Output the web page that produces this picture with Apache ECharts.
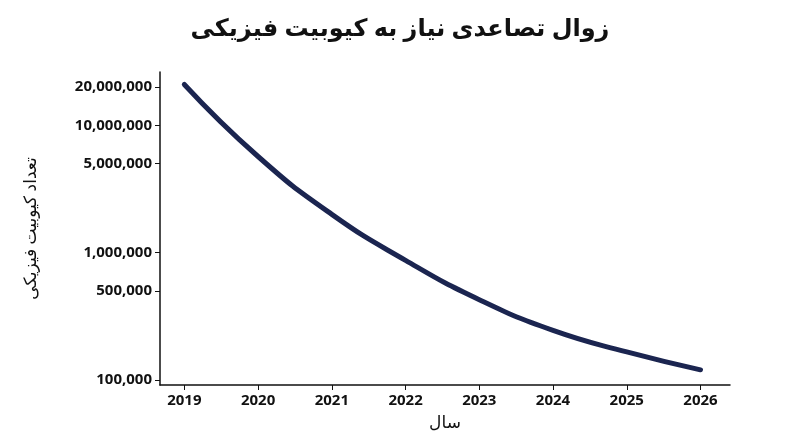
<!DOCTYPE html><html><head><meta charset="utf-8"><script src="https://cdn.jsdelivr.net/npm/echarts@6/dist/echarts.min.js"></script></head><body style="margin:0"><div id="c" style="width:800px;height:447px"></div><script>
const years=[2019,2020,2021,2022,2023,2024,2025,2026];
const demand=[21000000,5700000,2000000,870000,427000,245000,166000,120000];
const yTicks=[100000,500000,1000000,5000000,10000000,20000000];
const ch=echarts.init(document.getElementById('c'));
const f="'Noto Sans','DejaVu Sans',sans-serif";
ch.setOption({
title:{text:'زوال تصاعدی نیاز به کیوبیت فیزیکی',left:'center',top:12,textStyle:{fontFamily:f,fontSize:24,fontWeight:'bold',color:'#111'}},
grid:{left:160,right:70,top:72,bottom:62},
xAxis:{type:'value',min:2018.67,max:2026.4,name:'سال',nameLocation:'middle',nameGap:30,nameTextStyle:{fontFamily:f,fontSize:17,color:'#111'},
axisLine:{lineStyle:{color:'#111',width:1.5}},axisTick:{show:true,customValues:years,lineStyle:{color:'#111'}},splitLine:{show:false},
axisLabel:{customValues:years,formatter:v=>String(v),fontFamily:f,fontSize:15,fontWeight:'bold',color:'#111'}},
yAxis:{type:'value',min:4.96,max:7.42,name:'تعداد کیوبیت فیزیکی',nameLocation:'middle',nameGap:120,nameRotate:90,nameTextStyle:{fontFamily:f,fontSize:17,color:'#111'},
axisLine:{show:true,lineStyle:{color:'#111',width:1.5}},axisTick:{show:true,customValues:yTicks.map(Math.log10),lineStyle:{color:'#111'}},splitLine:{show:false},
axisLabel:{customValues:yTicks.map(Math.log10),formatter:v=>Math.round(Math.pow(10,v)).toLocaleString('en-US'),fontFamily:f,fontSize:15,fontWeight:'bold',color:'#111'}},
series:[{type:'line',smooth:0.5,symbol:'none',data:years.map((y,i)=>[y,Math.log10(demand[i])]),lineStyle:{color:'#1b2550',width:5,cap:'round'}}]
});
</script></body></html>
